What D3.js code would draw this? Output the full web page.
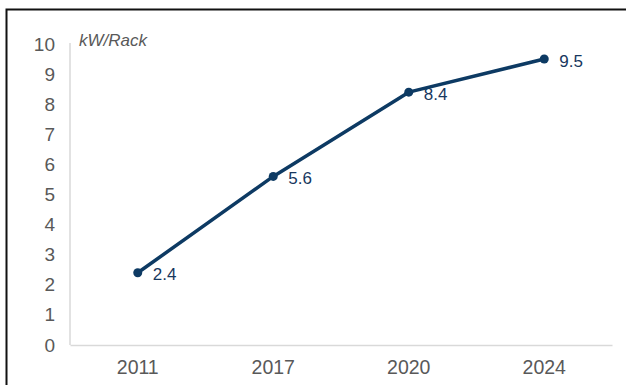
<!DOCTYPE html>
<html><head><meta charset="utf-8">
<script src="https://cdn.jsdelivr.net/npm/d3@7"></script>
<style>body{margin:0;background:#fff}svg{display:block}</style>
</head><body>
<script>
const categories = ["2011","2017","2020","2024"];
const values = [2.4, 5.6, 8.4, 9.5];
const yTicks = [0,1,2,3,4,5,6,7,8,9,10];
const unitLabel = "kW/Rack";

(function(){
const W = 626, H = 385;
const svg = d3.select("body").append("svg").attr("width", W).attr("height", H);
// frame
svg.append("path").attr("d", `M6.5,${H} L6.5,9.5 L${W},9.5`).attr("fill","none").attr("stroke","#111").attr("stroke-width",2);

const mLeft = 70, mRight = 612, mTop = 43, mBottom = 345;
const x = d3.scaleBand().domain(categories).range([mLeft, mRight]);
const y = d3.scaleLinear().domain([0, 10]).range([mBottom, 44]);
const font = "Liberation Sans, Arial, sans-serif";

// y axis
const ya = svg.append("g").attr("transform", `translate(${mLeft},0)`)
  .call(d3.axisLeft(y).tickValues(yTicks).tickSize(0).tickPadding(15).tickFormat(d3.format("d")));
ya.select(".domain").attr("d", `M0,${mTop}V${mBottom}`).attr("stroke","#d9d9d9").attr("stroke-width",1.5);
ya.selectAll("text").attr("font-family",font).attr("font-size",19).attr("fill","#595959");

// x axis
const xa = svg.append("g").attr("transform", `translate(0,${mBottom})`)
  .call(d3.axisBottom(x).tickSize(0).tickPadding(15));
xa.select(".domain").attr("stroke","#d9d9d9").attr("stroke-width",1.5);
xa.selectAll("text").attr("font-family",font).attr("font-size",19.5).attr("fill","#595959");

// unit label
svg.append("text").attr("x", 79).attr("y", 46).attr("font-family",font).attr("font-size",17)
  .attr("font-style","italic").attr("fill","#595959").text(unitLabel);

const data = categories.map((c,i)=>({c, v: values[i]}));
const cx = d => x(d.c) + x.bandwidth()/2;
const lineColor = "#0d3a63";
svg.selectAll("text.lbl").data(data).join("text").attr("class","lbl")
  .attr("x",d=>cx(d)+15).attr("y",d=>y(d.v)+1.5).attr("dy","0.35em")
  .attr("font-family",font).attr("font-size",17).attr("fill","#17375e")
  .text(d=>d3.format(".1f")(d.v));
svg.append("path").datum(data)
  .attr("d", d3.line().x(cx).y(d=>y(d.v)))
  .attr("fill","none").attr("stroke",lineColor).attr("stroke-width",3.5).attr("stroke-linejoin","round");
svg.selectAll("circle.pt").data(data).join("circle").attr("class","pt")
  .attr("cx",cx).attr("cy",d=>y(d.v)).attr("r",4.5).attr("fill",lineColor);
})();
</script>
</body></html>
